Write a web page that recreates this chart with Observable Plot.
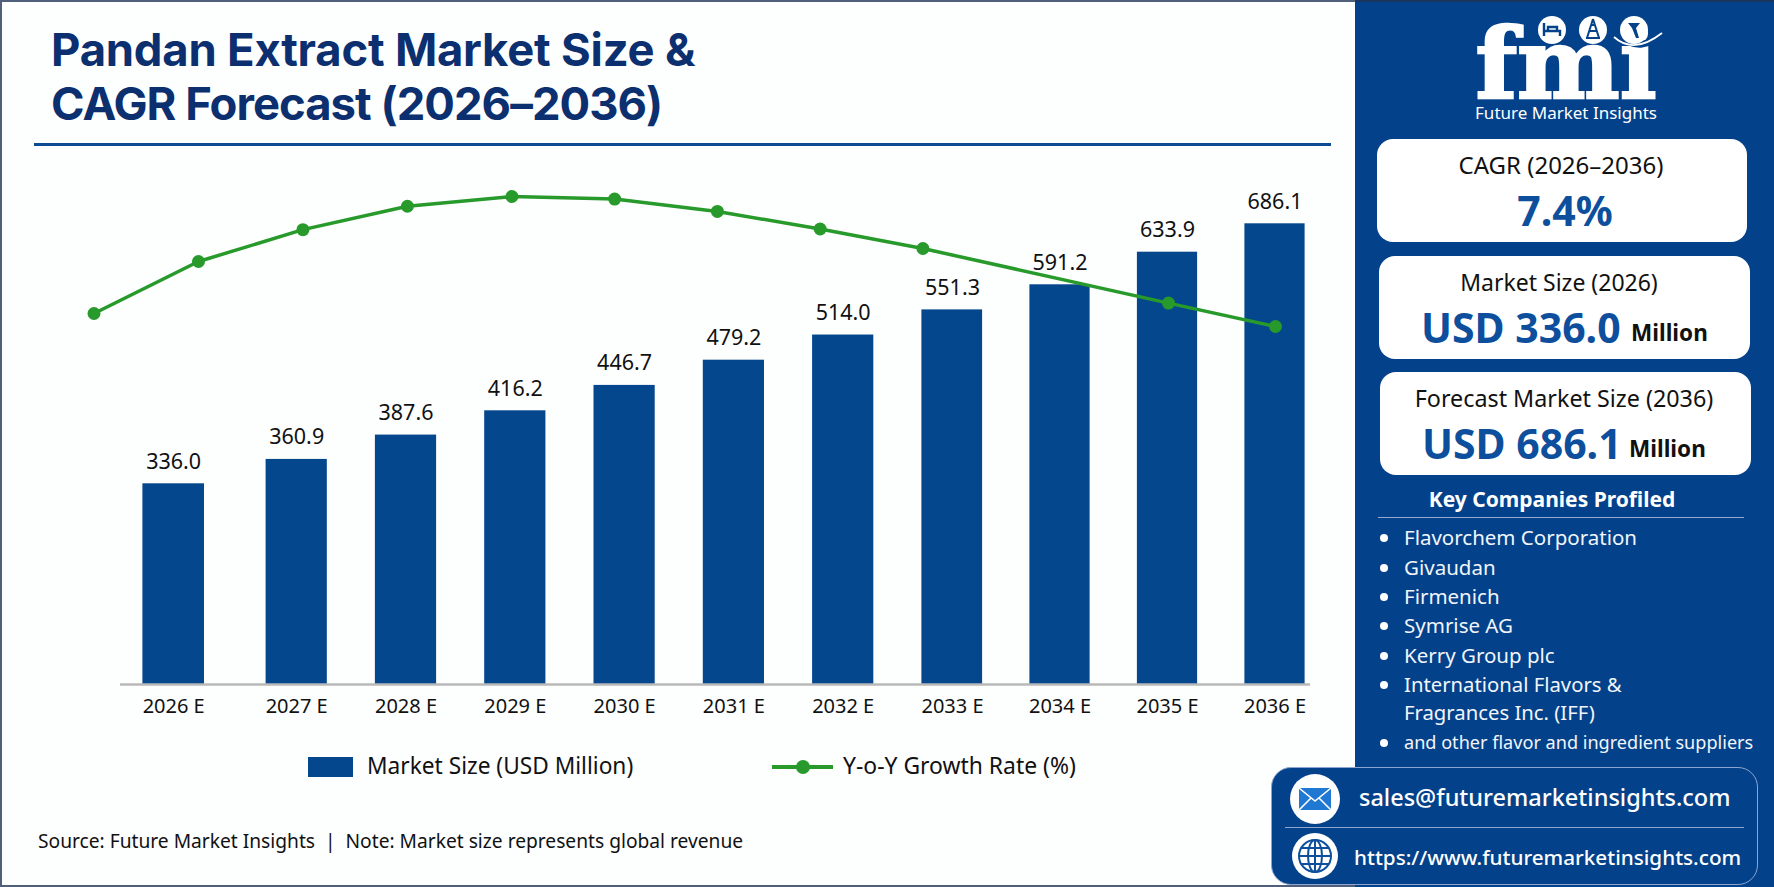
<!DOCTYPE html>
<html>
<head>
<meta charset="utf-8">
<script src="https://cdn.jsdelivr.net/npm/d3@7"></script>
<script src="https://cdn.jsdelivr.net/npm/@observablehq/plot@0.6"></script>
<style>
html,body{margin:0;padding:0;background:#fff}
#page{position:relative;width:1774px;height:887px;overflow:hidden;background:#fdfefe;font-family:"Noto Sans",sans-serif;color:#111}
#page>*{position:absolute}
.t{white-space:nowrap;line-height:1}
.c{transform:translate(-50%,-50%)}
.m{transform:translateY(-50%)}
.card{background:#fff;border-radius:16px}
svg{overflow:visible}
</style>
</head>
<body>
<div id="page"></div>
<script>
// ---- chart data ----
const years = [2026, 2027, 2028, 2029, 2030, 2031, 2032, 2033, 2034, 2035, 2036];
const marketSize = [336.0, 360.9, 387.6, 416.2, 446.7, 479.2, 514.0, 551.3, 591.2, 633.9, 686.1];
const growthRate = [6.80, 7.60, 8.09, 8.45, 8.60, 8.56, 8.37, 8.10, 7.80, 6.96, 6.60];
const companies = ["Flavorchem Corporation", "Givaudan", "Firmenich", "Symrise AG", "Kerry Group plc"];

const barRows = years.map((year, i) => ({year, value: marketSize[i]}));
const lineRows = years.map((year, i) => ({year, growth: growthRate[i]}));

const NAVY = "#04478c", GREEN = "#279a2b", TITLE = "#0c2f6f", BLUE = "#0d4f9c";
const page = document.getElementById("page");
const add = (html) => page.insertAdjacentHTML("beforeend", html);
const fontCss = {fontFamily: '"Noto Sans", sans-serif', background: "transparent"};

// frame
add(`<div style="left:0;top:0;width:1355px;height:887px;box-sizing:border-box;border:solid #4f5f7c;border-width:2px 0 2px 2px"></div>`);

// title
add(`<div class="t" style="left:51px;top:23px;font-size:45.4px;font-weight:700;color:${TITLE};line-height:54px;font-family:Inter,sans-serif;letter-spacing:-.2px">Pandan Extract Market Size &amp;<br><span style="letter-spacing:-.95px">CAGR Forecast (2026–2036)</span></div>`);
add(`<div style="left:34px;top:142.5px;width:1297px;height:3px;background:#0d4a94"></div>`);

// bar chart (the picture's bars are not drawn to a plain proportional scale, so the y scale is piecewise)
const bars = Plot.plot({
  width: 1340, height: 760, marginLeft: 120, marginRight: 30, marginTop: 140, marginBottom: 76,
  style: fontCss,
  x: {type: "linear", domain: [2026, 2026.28, 2026.72, 2033, 2036], range: [173.2, 204, 265.6, 952, 1274.5]},
  y: {type: "log", axis: null, domain: [190, 336, 416.2, 591.2, 633.9, 686.1], range: [684, 483.3, 410.3, 284.3, 251.7, 223.3]},
  marks: [
    Plot.rect(barRows, {x1: d => d.year - 0.28, x2: d => d.year + 0.28, y1: () => 190, y2: "value", fill: NAVY}),
    Plot.ruleY([190], {stroke: "#b9b9b9", strokeWidth: 2.5}),
    Plot.axisX({ticks: years, tickFormat: d => `${d} E`, tickSize: 0, tickPadding: 14, fontSize: 20, label: null, color: "#111"}),
    Plot.text(barRows, {x: "year", y: "value", text: d => d.value.toFixed(1), dy: -22, fontSize: 21.5, fill: "#111"})
  ]
});
bars.style.left = "0"; bars.style.top = "0";
page.appendChild(bars);

// growth line: same years on its own scales, drawn over the bars
const line = Plot.plot({
  width: 1340, height: 760, marginLeft: 0, marginRight: 0, marginTop: 0, marginBottom: 0,
  style: fontCss,
  x: {type: "linear", axis: null, domain: [2026, 2030, 2034, 2035, 2036], range: [93.5, 511.4, 922.4, 1168, 1275]},
  y: {axis: null, domain: [6.6, 8.6], range: [326, 196]},
  marks: [
    Plot.line(lineRows, {x: "year", y: "growth", stroke: GREEN, strokeWidth: 3.5}),
    Plot.dot(lineRows, {x: "year", y: "growth", r: 6.5, fill: GREEN})
  ]
});
line.style.left = "0"; line.style.top = "0";
page.appendChild(line);

// legend
add(`<div style="left:308px;top:757px;width:45px;height:20px;background:${NAVY}"></div>`);
add(`<div class="t m" style="left:367px;top:766px;font-size:22.7px">Market Size (USD Million)</div>`);
add(`<div style="left:772px;top:765px;width:61px;height:4px;background:${GREEN}"></div>`);
add(`<div style="left:796px;top:760px;width:14px;height:14px;border-radius:50%;background:${GREEN}"></div>`);
add(`<div class="t m" style="left:843px;top:766px;font-size:22.9px">Y-o-Y Growth Rate (%)</div>`);

// source
add(`<div class="t m" style="left:38px;top:841px;font-size:19.2px">Source: Future Market Insights &nbsp;|&nbsp; Note: Market size represents global revenue</div>`);

// side panel
add(`<div style="left:1355px;top:0;width:419px;height:887px;background:#03428a;border-top:2px solid #17375f;box-sizing:border-box"></div>`);

// logo
add(`<svg style="left:1450px;top:0" width="230" height="125" viewBox="0 0 230 125">
  <text x="116" y="98" text-anchor="middle" font-family="DejaVu Serif" font-weight="700" font-size="97" fill="#fff" stroke="#fff" stroke-width="2.5">fmi</text>
  <path d="M166 33q26 24 48-3" stroke="#03428a" stroke-width="7" fill="none"/>
  <circle cx="102" cy="30" r="14" fill="#fff"/><circle cx="143" cy="30" r="14" fill="#fff"/><circle cx="184" cy="30" r="14" fill="#fff"/>
  <path d="M94 23v13M94 31h16v5M98 27h9v4h-9z" stroke="#03428a" stroke-width="2.4" fill="none"/>
  <path d="M143 19l-6 19M143 19l6 19M139.500 31h7M141 25h4M136 38h14" stroke="#03428a" stroke-width="2" fill="none"/>
  <path d="M178 23h12l-4 5 3 10h-3l-4-10z" fill="#03428a"/>
  <path d="M164 37q20 18 48-4" stroke="#fff" stroke-width="1.8" fill="none"/>
</svg>`);
add(`<div class="t c" style="left:1566px;top:112px;font-size:17px;color:#fff">Future Market Insights</div>`);

// cards
add(`<div class="card" style="left:1377px;top:139px;width:370px;height:103px"></div>`);
add(`<div class="card" style="left:1379px;top:256px;width:371px;height:103px"></div>`);
add(`<div class="card" style="left:1380px;top:372px;width:371px;height:103px"></div>`);
add(`<div class="t c" style="left:1561px;top:165px;font-size:24px">CAGR (2026–2036)</div>`);
add(`<div class="t c" style="left:1565px;top:210px;font-size:41px;font-weight:700;color:${BLUE}">7.4%</div>`);
add(`<div class="t c" style="left:1559px;top:282px;font-size:23px">Market Size (2026)</div>`);
add(`<div class="t m" style="left:1421px;top:327px;font-size:41px;font-weight:700;color:${BLUE}">USD 336.0</div>`);
add(`<div class="t m" style="left:1631px;top:333px;font-size:22.5px;font-weight:700;color:#111">Million</div>`);
add(`<div class="t c" style="left:1564px;top:399px;font-size:23.3px">Forecast Market Size (2036)</div>`);
add(`<div class="t m" style="left:1422px;top:443px;font-size:41px;font-weight:700;color:${BLUE}">USD 686.1</div>`);
add(`<div class="t m" style="left:1629px;top:449px;font-size:22.5px;font-weight:700;color:#111">Million</div>`);

// companies
add(`<div class="t c" style="left:1552px;top:499px;font-size:21px;font-weight:700;color:#fff">Key Companies Profiled</div>`);
add(`<div style="left:1378px;top:516.5px;width:366px;height:1px;background:#93a9cf"></div>`);
const rowY = [537, 567, 596, 625, 655];
const item = (y, text, size, bullet) => {
  if (bullet) add(`<div style="left:1380px;top:${y - 3}px;width:8px;height:8px;border-radius:50%;background:#fff"></div>`);
  add(`<div class="t m" style="left:1404px;top:${y}px;font-size:${size}px;color:#f2f5fb">${text}</div>`);
};
companies.forEach((c, i) => item(rowY[i], c, 20.5, true));
item(684, "International Flavors &amp;", 20.3, true);
item(712, "Fragrances Inc. (IFF)", 20.3, false);
item(742, "and other flavor and ingredient suppliers", 18.1, true);

// contact box
add(`<div style="left:1271px;top:767px;width:487px;height:118px;box-sizing:border-box;background:#03428a;border:1.5px solid #8ea6cf;border-radius:20px"></div>`);
add(`<div style="left:1285px;top:826.5px;width:459px;height:1.5px;background:#8ea6cf"></div>`);
add(`<svg style="left:1290px;top:774px" width="50" height="50" viewBox="0 0 50 50"><circle cx="25" cy="25" r="25" fill="#fff"/><rect x="9" y="14" width="32" height="22" fill="#1f78d1"/><path d="M9 14l16 13 16-13M9 36l12-12M41 36l-12-12" stroke="#fff" stroke-width="1.6" fill="none"/></svg>`);
add(`<svg style="left:1292px;top:833px" width="46" height="46" viewBox="0 0 46 46"><circle cx="23" cy="23" r="23" fill="#fff"/><g stroke="#0d4f9c" stroke-width="2" fill="none"><circle cx="23" cy="23" r="16"/><ellipse cx="23" cy="23" rx="7" ry="16"/><path d="M23 7v32M7 23h32M9.5 15h27M9.5 31h27"/></g></svg>`);
add(`<div class="t m" style="left:1359px;top:798px;font-size:23.5px;font-weight:500;color:#fff">sales@futuremarketinsights.com</div>`);
add(`<div class="t m" style="left:1354px;top:857px;font-size:20.7px;font-weight:500;color:#fff">https://www.futuremarketinsights.com</div>`);
</script>
</body>
</html>
